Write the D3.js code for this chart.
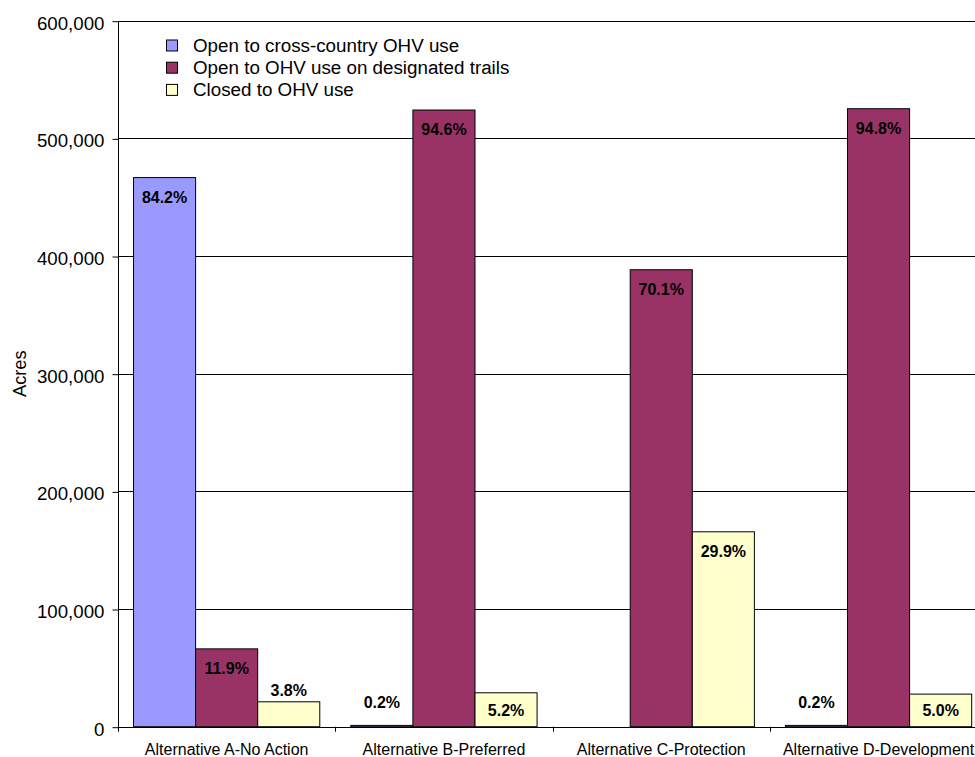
<!DOCTYPE html>
<html>
<head>
<meta charset="utf-8">
<script src="https://cdn.jsdelivr.net/npm/d3@7/dist/d3.min.js"></script>
<style>
  html, body { margin: 0; padding: 0; background: #fff; }
  svg { display: block; font-family: "Liberation Sans", Arial, sans-serif; }
</style>
</head>
<body>
<svg id="chart" width="975" height="757"></svg>
<script>
// Land allocation for OHV use by alternative (acres)
const categories = [
  "Alternative A-No Action",
  "Alternative B-Preferred",
  "Alternative C-Protection",
  "Alternative D-Development"
];
const seriesNames = [
  "Open to cross-country OHV use",
  "Open to OHV use on designated trails",
  "Closed to OHV use"
];
const crossCountry = [466690, 1110, 0, 1110];
const designatedTrails = [66150, 524080, 388350, 525190];
const closed = [21160, 28810, 165650, 27700];
const yTicks = [0, 100000, 200000, 300000, 400000, 500000, 600000];

const seriesValues = [crossCountry, designatedTrails, closed];
const colors = ["#9999FF", "#993366", "#FFFFCC"];

const svg = d3.select("#chart");
const plotLeft = 118, plotTop = 20.7, plotBottom = 726.7;
const catWidth = 217.3;

const x0 = d3.scaleBand()
  .domain(categories)
  .range([plotLeft, plotLeft + catWidth * categories.length])
  .paddingInner(0).paddingOuter(0);

const x1 = d3.scaleBand()
  .domain(d3.range(seriesNames.length))
  .range([0, x0.bandwidth()])
  .paddingInner(0).paddingOuter(0.25);

const y = d3.scaleLinear().domain([0, 600000]).range([plotBottom, plotTop]);

// gridlines
svg.append("g")
  .selectAll("line")
  .data(yTicks.filter(d => d > 0))
  .join("line")
  .attr("x1", plotLeft).attr("x2", 975)
  .attr("y1", d => Math.round(y(d)) + 0.5).attr("y2", d => Math.round(y(d)) + 0.5)
  .attr("stroke", "#000").attr("stroke-width", 1);

// y axis
const yAxis = d3.axisLeft(y).tickValues(yTicks).tickFormat(d3.format(",")).tickSize(6).tickPadding(8);
const gy = svg.append("g").attr("transform", `translate(${plotLeft + 0.5},0.5)`).call(yAxis);
gy.select(".domain").attr("d", `M0,${plotTop}V${plotBottom + 4}`).attr("stroke", "#000");
gy.selectAll(".tick line").attr("stroke", "#000");
gy.selectAll(".tick text")
  .attr("font-size", "18.7px").attr("fill", "#000")
  .attr("font-family", "Liberation Sans, Arial, sans-serif")
  .attr("dy", "0.42em");

// y axis title
svg.append("text")
  .attr("transform", `translate(25.5,${(plotTop + plotBottom) / 2}) rotate(-90)`)
  .attr("text-anchor", "middle")
  .attr("font-size", "18.3px")
  .text("Acres");

// bars
const rows = [];
categories.forEach((c, ci) => {
  seriesValues.forEach((vals, si) => {
    rows.push({ cat: c, ci, si, value: vals[ci] });
  });
});
const totals = categories.map((c, ci) => d3.sum(seriesValues, v => v[ci]));

svg.append("g")
  .selectAll("rect")
  .data(rows.filter(d => d.value > 0))
  .join("rect")
  .attr("x", d => x0(d.cat) + x1(d.si))
  .attr("y", d => y(d.value))
  .attr("width", x1.bandwidth())
  .attr("height", d => y(0) - y(d.value))
  .attr("fill", d => colors[d.si])
  .attr("stroke", "#000")
  .attr("stroke-width", 1);

// x axis
const gx = svg.append("g");
gx.append("line")
  .attr("x1", plotLeft).attr("x2", 975)
  .attr("y1", Math.round(plotBottom) + 0.5).attr("y2", Math.round(plotBottom) + 0.5)
  .attr("stroke", "#000");
gx.selectAll(".ctick")
  .data(categories)
  .join("line")
  .attr("class", "ctick")
  .attr("x1", d => Math.round(x0(d)) + 0.5).attr("x2", d => Math.round(x0(d)) + 0.5)
  .attr("y1", plotBottom).attr("y2", plotBottom + 5)
  .attr("stroke", "#000");
gx.selectAll(".clabel")
  .data(categories)
  .join("text")
  .attr("class", "clabel")
  .attr("x", d => x0(d) + x0.bandwidth() / 2)
  .attr("y", 755)
  .attr("text-anchor", "middle")
  .attr("font-size", "16px")
  .text(d => d);

// percentage labels
const pct = d3.format(".1%");
svg.append("g")
  .selectAll("text")
  .data(rows.filter(d => d.value > 0))
  .join("text")
  .attr("x", d => x0(d.cat) + x1(d.si) + x1.bandwidth() / 2)
  .attr("y", d => {
    const t = y(d.value), z = y(0), h = z - t;
    if (h >= 30) {
      const c = Math.min(t + 19.5, (t + z) / 2);
      return c + 5.8;
    }
    return Math.min(t, z - 12.8) - 5.6;
  })
  .attr("text-anchor", "middle")
  .attr("font-size", "16px")
  .attr("font-weight", "bold")
  .attr("fill", "#000")
  .text(d => pct(d.value / totals[d.ci]));

// legend
const legend = svg.append("g").attr("transform", "translate(166,39.5)");
const items = legend.selectAll("g")
  .data(seriesNames)
  .join("g")
  .attr("transform", (d, i) => `translate(0,${i * 22.2})`);
items.append("rect")
  .attr("x", 0.5).attr("y", 0.5)
  .attr("width", 11).attr("height", 11)
  .attr("fill", (d, i) => colors[i])
  .attr("stroke", "#000");
items.append("text")
  .attr("x", 27).attr("y", 12.5)
  .attr("font-size", "18.8px")
  .text(d => d);
</script>
</body>
</html>
